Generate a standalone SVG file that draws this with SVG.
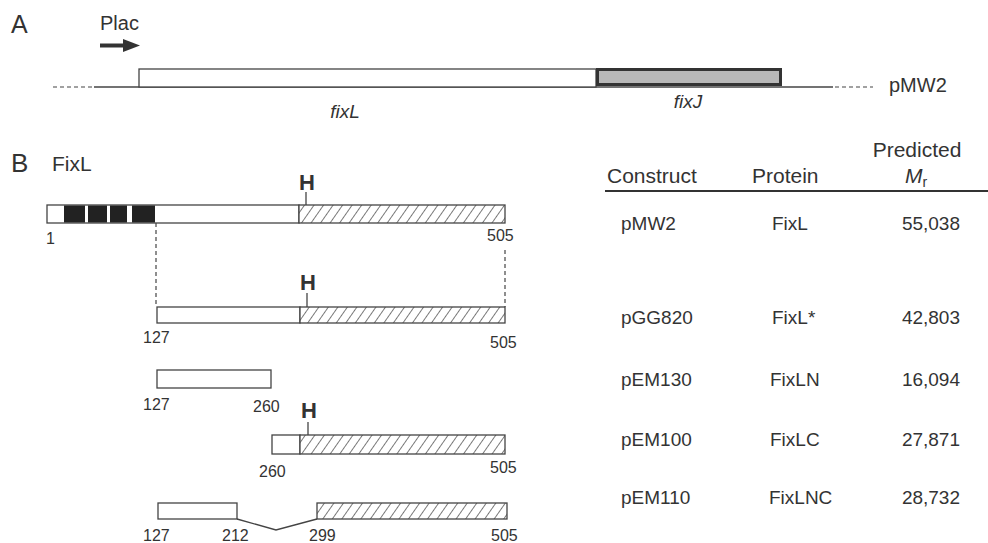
<svg xmlns="http://www.w3.org/2000/svg" width="988" height="543" viewBox="0 0 988 543">
<defs>
<style>
text{font-family:"Liberation Sans",Arial,sans-serif;fill:#333}
.lab{font-size:25px}
.t20{font-size:20px}
.t21{font-size:21px}
.t19{font-size:19px}
.num{font-size:16px}
.it{font-style:italic}
.hb{font-size:22px;font-weight:bold}
.box{fill:#fff;stroke:#444;stroke-width:1.3}
.hat{fill:url(#hatch);stroke:#444;stroke-width:1.3}
.ln{stroke:#444;stroke-width:1.3;fill:none}
.dash{stroke:#444;stroke-width:1.2;stroke-dasharray:4 3;fill:none}
.blk{fill:#222}
</style>
<pattern id="hatch" width="7.8" height="7.8" patternUnits="userSpaceOnUse" patternTransform="rotate(35)">
<rect width="7.8" height="7.8" fill="#fff"/>
<line x1="0" y1="0" x2="0" y2="7.8" stroke="#333" stroke-width="1.3"/>
</pattern>
</defs>
<rect width="988" height="543" fill="#fff"/>

<g id="panelA">
<text class="lab" x="11" y="33">A</text>
<text class="t20" x="100" y="30">Plac</text>
<g id="plac-arrow">
<line x1="100" y1="45.5" x2="125" y2="45.5" stroke="#333" stroke-width="4"/>
<polygon points="123,39 140,45.5 123,52" fill="#333"/>
</g>
<line class="dash" x1="53" y1="87" x2="92" y2="87"/>
<line class="ln" x1="94" y1="87" x2="833" y2="87"/>
<line class="dash" x1="835" y1="87" x2="873" y2="87"/>
<g id="fixL-gene">
<rect class="box" x="139" y="69" width="457" height="18"/>
<text class="t19 it" x="345" y="118" text-anchor="middle">fixL</text>
</g>
<g id="fixJ-gene">
<rect x="597.5" y="69.5" width="183" height="15" fill="#b8b8b8" stroke="#333" stroke-width="3"/>
<text class="t19 it" x="688" y="108" text-anchor="middle">fixJ</text>
</g>
<text class="t20" x="889" y="92">pMW2</text>
</g>

<g id="panelB">
<text class="lab" x="11" y="172" style="font-size:26px">B</text>
<text class="t21" x="52" y="171">FixL</text>
</g>

<g id="connectors">
<line class="dash" x1="156" y1="223" x2="156" y2="307"/>
<line class="dash" x1="505" y1="250" x2="505" y2="307"/>
<polyline class="ln" points="237,519 276,530 317,519"/>
</g>

<g id="pMW2-bar">
<rect class="box" x="47" y="205" width="252" height="18"/>
<rect class="blk" x="64" y="205.5" width="21" height="17"/>
<rect class="blk" x="88" y="205.5" width="19" height="17"/>
<rect class="blk" x="110" y="205.5" width="17" height="17"/>
<rect class="blk" x="132" y="205.5" width="23" height="17"/>
<rect class="hat" x="299" y="205" width="206" height="18"/>
<line class="ln" x1="306" y1="192" x2="306" y2="205"/>
<text class="hb" x="307" y="190" text-anchor="middle">H</text>
<text class="num" x="46" y="244">1</text>
<text class="num" x="487" y="241">505</text>
</g>

<g id="pGG820-bar">
<rect class="box" x="157" y="307" width="143" height="16"/>
<rect class="hat" x="300" y="307" width="205" height="16"/>
<line class="ln" x1="307" y1="293" x2="307" y2="307"/>
<text class="hb" x="308" y="290" text-anchor="middle">H</text>
<text class="num" x="143" y="343">127</text>
<text class="num" x="490" y="348">505</text>
</g>

<g id="pEM130-bar">
<rect class="box" x="157" y="370" width="114" height="18"/>
<text class="num" x="143" y="410">127</text>
<text class="num" x="253" y="412">260</text>
</g>

<g id="pEM100-bar">
<rect class="box" x="272" y="435" width="28" height="19"/>
<rect class="hat" x="300" y="435" width="205" height="19"/>
<line class="ln" x1="308" y1="422" x2="308" y2="435"/>
<text class="hb" x="309" y="418" text-anchor="middle">H</text>
<text class="num" x="259" y="477">260</text>
<text class="num" x="490" y="473">505</text>
</g>

<g id="pEM110-bar">
<rect class="box" x="158" y="503" width="79" height="16"/>
<rect class="hat" x="317" y="503" width="190" height="16"/>
<text class="num" x="143" y="541">127</text>
<text class="num" x="222" y="541">212</text>
<text class="num" x="309" y="541">299</text>
<text class="num" x="491" y="541">505</text>
</g>

<g id="table">
<text class="t21" x="917" y="157" text-anchor="middle">Predicted</text>
<text class="t21" x="607" y="183">Construct</text>
<text class="t21" x="752" y="183">Protein</text>
<text class="t21" x="905" y="183"><tspan class="it">M</tspan><tspan font-size="14" dy="4">r</tspan></text>
<line x1="605" y1="191" x2="988" y2="191" stroke="#333" stroke-width="2"/>
<g id="row-pMW2">
<text class="t19" x="621" y="230">pMW2</text>
<text class="t19" x="772" y="230">FixL</text>
<text class="t19" x="960" y="230" text-anchor="end">55,038</text>
</g>
<g id="row-pGG820">
<text class="t19" x="621" y="324">pGG820</text>
<text class="t19" x="772" y="324">FixL*</text>
<text class="t19" x="960" y="324" text-anchor="end">42,803</text>
</g>
<g id="row-pEM130">
<text class="t19" x="621" y="386">pEM130</text>
<text class="t19" x="770" y="386">FixLN</text>
<text class="t19" x="960" y="386" text-anchor="end">16,094</text>
</g>
<g id="row-pEM100">
<text class="t19" x="621" y="446">pEM100</text>
<text class="t19" x="770" y="446">FixLC</text>
<text class="t19" x="960" y="446" text-anchor="end">27,871</text>
</g>
<g id="row-pEM110">
<text class="t19" x="621" y="504">pEM110</text>
<text class="t19" x="769" y="504">FixLNC</text>
<text class="t19" x="960" y="504" text-anchor="end">28,732</text>
</g>
</g>
</svg>
